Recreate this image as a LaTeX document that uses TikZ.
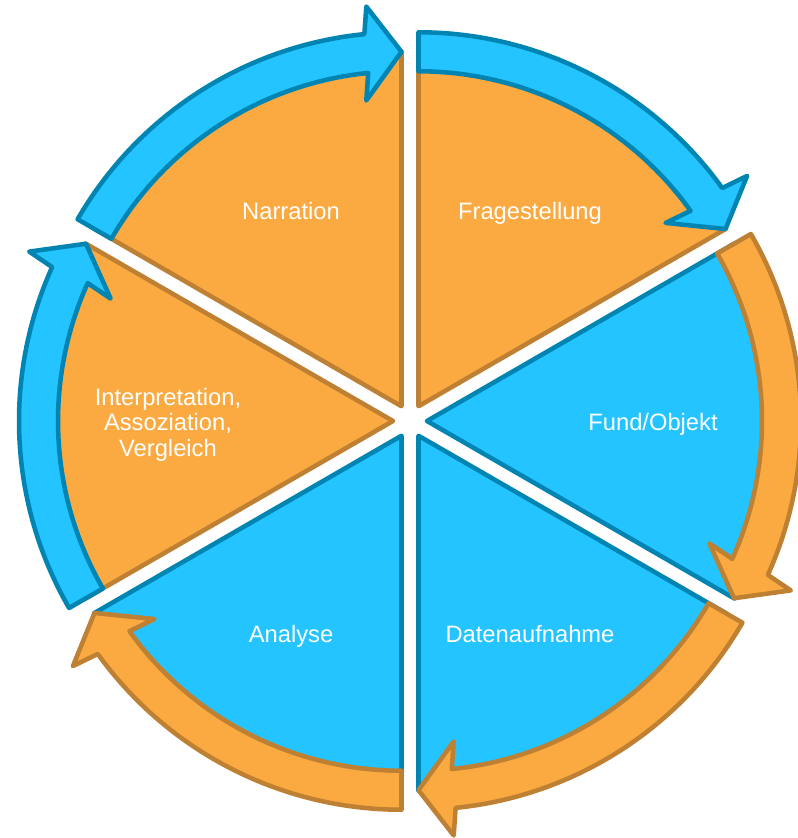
\documentclass[tikz,border=0pt]{standalone}
\usepackage{fontspec}
\setmainfont{Liberation Sans}
\usetikzlibrary{calc}
\definecolor{ofill}{HTML}{FBAA41}
\definecolor{oline}{HTML}{BE8032}
\definecolor{bfill}{HTML}{23C4FF}
\definecolor{bline}{HTML}{0084B2}
\begin{document}
\begin{tikzpicture}[x=0.75pt,y=0.75pt,line join=round,
  shape edge/.style={line width=3.4pt},
  lbl/.style={text=white,inner sep=0pt,font=\fontsize{17.8}{19.1}\selectfont,align=center}]
\useasboundingbox (-410,-417) rectangle (388,421);
% pie slices
\foreach \b/\f/\l in {120/ofill/oline,60/ofill/oline,0/bfill/bline,-60/bfill/bline,-120/bfill/bline,180/ofill/oline}{
  \pgfmathsetmacro\s{\b+30}
  \pgfmathsetmacro\e{\b-30}
  \begin{scope}[shift={(\b:17)}]
    \draw[shape edge,fill=\f,draw=\l] (0,0) -- (\s:355) arc[start angle=\s,end angle=\e,radius=355] -- cycle;
  \end{scope}
}
% curved arrows
\foreach \b/\f/\l in {120/bfill/bline,60/bfill/bline,0/ofill/oline,-60/ofill/oline,-120/ofill/oline,180/bfill/bline}{
  \pgfmathsetmacro\s{\b+30}
  \pgfmathsetmacro\e{\b-30}
  \pgfmathsetmacro\h{\b-30+5.7}
  \begin{scope}[shift={(\b:17)}]
    \draw[shape edge,fill=\f,draw=\l] (\s:335) -- (\s:374)
      arc[start angle=\s,end angle=\h,radius=374]
      -- ($(\h:354.5)+(\e:47)$) -- (\e:354.5) -- ($(\h:354.5)-(\e:47)$)
      -- (\h:335) arc[start angle=\h,end angle=\s,radius=335] -- cycle;
  \end{scope}
}
% labels
\node[lbl,anchor=base] (narr) at (-119,201) {Narration};
\node[lbl,anchor=base] (frag) at (120,201) {Fragestellung};
\node[lbl,anchor=base] (fund) at (243,-10) {Fund/Objekt};
\node[lbl,anchor=base] (daten) at (120,-221) {Datenaufnahme};
\node[lbl,anchor=base] (anal) at (-119,-221) {Analyse};
\node[lbl] (interp) at (-242,-3.4) {Interpretation,\\Assoziation,\\Vergleich};
\end{tikzpicture}
\end{document}
